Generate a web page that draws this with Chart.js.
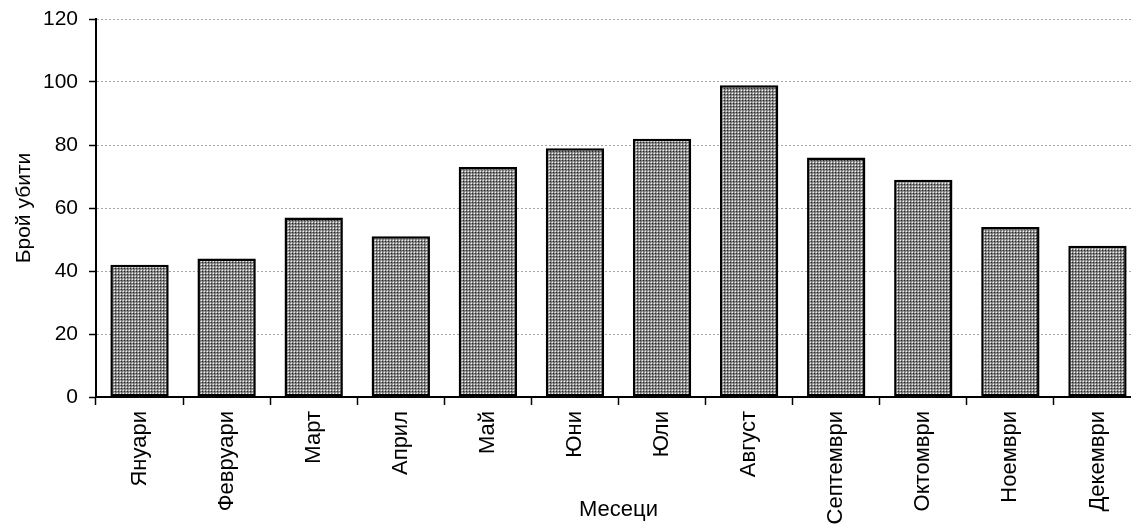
<!DOCTYPE html>
<html>
<head>
<meta charset="utf-8">
<script src="https://cdn.jsdelivr.net/npm/chart.js@4.4.1/dist/chart.umd.min.js"></script>
<style>
  html, body { margin: 0; padding: 0; background: #fff; overflow: hidden; }
  #wrap { width: 1131px; height: 526px; overflow: hidden; }
</style>
</head>
<body>
<div id="wrap"><canvas id="monthChart" width="1141" height="526"></canvas></div>
<script>
// months and number killed per month
const months = ["Януари", "Февруари", "Март", "Април", "Май", "Юни", "Юли", "Август", "Септември", "Октомври", "Ноември", "Декември"];
const killed = [42, 44, 57, 51, 73, 79, 82, 99, 76, 69, 54, 48];
const yTicks = [0, 20, 40, 60, 80, 100, 120];

const fontFamily = "'Liberation Sans', Arial, sans-serif";

// dotted gray fill like the old excel pattern
function makePattern() {
    const c = document.createElement("canvas");
    c.width = 3;
    c.height = 3;
    const p = c.getContext("2d");
    p.fillStyle = "#777";
    p.fillRect(0, 0, 3, 3);
    p.fillStyle = "#f0f0f0";
    p.fillRect(0, 0, 1, 1);
    p.fillStyle = "#b0b0b0";
    p.fillRect(2, 0, 1, 1);
    p.fillRect(0, 2, 1, 1);
    p.fillStyle = "#2a2a2a";
    p.fillRect(1, 1, 1, 1);
    return p.createPattern(c, "repeat");
}

const ctx = document.getElementById("monthChart").getContext("2d");

const myChart = new Chart(ctx, {
    type: "bar",
    data: {
        labels: months,
        datasets: [
            {
                data: killed,
                backgroundColor: makePattern(),
                borderColor: "#000",
                borderWidth: 2.5,
                borderSkipped: false,
                barPercentage: 0.67,
                categoryPercentage: 1.0,
            },
        ],
    },
    options: {
        responsive: false,
        animation: false,
        layout: { padding: { top: 19, right: 0, bottom: 0, left: 0 } },
        plugins: {
            legend: { display: false },
            tooltip: { enabled: false },
        },
        scales: {
            x: {
                offset: true,
                grid: {
                    offset: true,
                    drawOnChartArea: false,
                    drawTicks: true,
                    tickLength: 8,
                    tickColor: "#000",
                    tickWidth: 1.5,
                },
                border: { display: true, color: "#000", width: 2 },
                ticks: {
                    color: "#000",
                    font: { family: fontFamily, size: 22 },
                    maxRotation: 90,
                    minRotation: 90,
                    autoSkip: false,
                    padding: 6,
                },
                title: {
                    display: true,
                    text: "Месеци",
                    color: "#000",
                    font: { family: fontFamily, size: 22 },
                    padding: { top: 0, bottom: 3 },
                },
                afterFit: function (scale) { scale.height = 129; },
            },
            y: {
                min: 0,
                max: 120,
                afterBuildTicks: function (scale) {
                    scale.ticks = yTicks.map(v => ({ value: v }));
                },
                grid: {
                    color: "#a6a6a6",
                    lineWidth: 1,
                    drawTicks: true,
                    tickLength: 7,
                    tickColor: "#000",
                    tickWidth: 1.5,
                },
                border: { display: true, color: "#000", width: 2, dash: [2, 2] },
                ticks: {
                    color: "#000",
                    font: { family: fontFamily, size: 21 },
                    padding: 11,
                },
                title: {
                    display: true,
                    text: "Брой убити",
                    color: "#000",
                    font: { family: fontFamily, size: 21 },
                    padding: { top: 12, bottom: 0 },
                },
                afterFit: function (scale) {
                    scale.width = 96;
                    scale.paddingTop = 0;
                    scale.paddingBottom = 0;
                },
            },
        },
    },
});
</script>
</body>
</html>
